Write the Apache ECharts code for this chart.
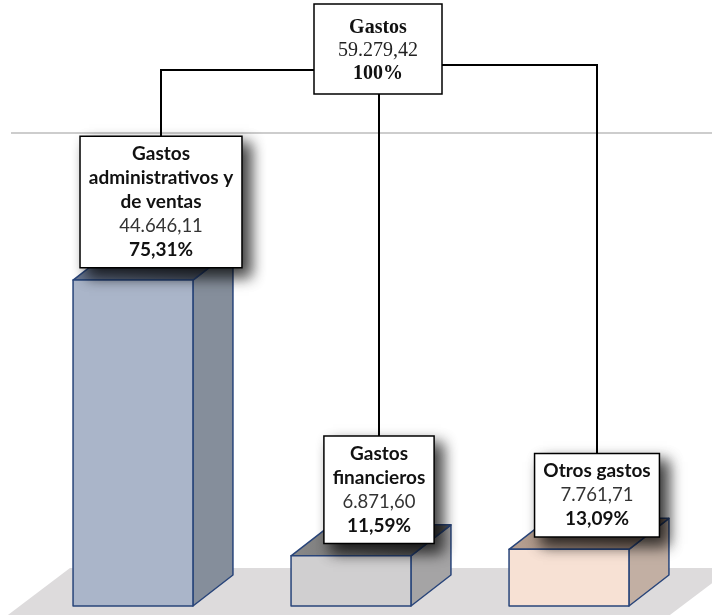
<!DOCTYPE html>
<html>
<head>
<meta charset="utf-8">
<script src="https://cdn.jsdelivr.net/npm/echarts@6/dist/echarts.min.js"></script>
<style>
  html, body { margin: 0; padding: 0; background: #fff; }
  #chart { width: 712px; height: 615px; }
</style>
</head>
<body>
<div id="chart"></div>
<script>
// data
const categories = ['Gastos\nadministrativos y\nde ventas', 'Gastos\nfinancieros', 'Otros gastos']
const values = [44646.11, 6871.60, 7761.71]
const totalName = 'Gastos'

// styles per bar: front, side, top gradient
const palette = [
  { front: '#aab5c9', side: '#858e9b', top: ['#6a7892', '#4c5462'] },
  { front: '#d0cfd0', side: '#a5a4a5', top: ['#8a8a8a', '#555555'] },
  { front: '#f7e1d4', side: '#c2afa3', top: ['#b8a192', '#8d786c'] },
]

const total = values.reduce((a, b) => a + b, 0)

function fmt(n) {
  const [i, d] = n.toFixed(2).split('.')
  return i.replace(/\B(?=(\d{3})+(?!\d))/g, '.') + ',' + d
}
function pct(n) {
  return (n * 100).toFixed(2).replace('.', ',').replace(/,00$/, '') + '%'
}

// top box (total)
const topBox = { x: 314, y: 4, w: 128, h: 90 }
const elbowY = [70, 65]
const LINE_H = 24
const PAD = [5, 8]
const DX = 40, DY = -31

const chart = echarts.init(document.getElementById('chart'))

function renderItem(params, api) {
  const i = params.dataIndex
  const v = api.value(1)
  const top = api.coord([i, v])
  const base = api.coord([i, 0])
  const w = api.size([1, 0])[0] * 0.55
  const x0 = top[0] - w / 2, x1 = top[0] + w / 2
  const y0 = top[1], y1 = base[1]
  const c = palette[i]
  const edge = { stroke: '#29457a', lineWidth: 1.5, lineJoin: 'round' }

  const name = categories[i]
  const lines = name.split('\n')
  const text = lines.map(l => '{b|' + l + '}').join('\n') +
    '\n{v|' + fmt(v) + '}\n{b|' + pct(v / total) + '}'
  const bx = top[0] + 28
  const bBottom = y0 - 13
  const bTop = bBottom - (lines.length + 2) * LINE_H - 2 * PAD[0]

  const topCx = topBox.x + topBox.w / 2
  let conn
  if (Math.abs(bx - topCx) < 25) {
    conn = [[bx, bTop], [bx, topBox.y + topBox.h]]
  } else if (bx < topCx) {
    conn = [[bx, bTop], [bx, elbowY[0]], [topBox.x, elbowY[0]]]
  } else {
    conn = [[bx, bTop], [bx, elbowY[1]], [topBox.x + topBox.w, elbowY[1]]]
  }

  return {
    type: 'group',
    children: [
      {
        type: 'polygon',
        shape: { points: [[x1, y0], [x1 + DX, y0 + DY], [x1 + DX, y1 + DY], [x1, y1]] },
        style: Object.assign({ fill: c.side }, edge),
      },
      {
        type: 'polygon',
        shape: { points: [[x0, y0], [x0 + DX, y0 + DY], [x1 + DX, y0 + DY], [x1, y0]] },
        style: Object.assign({
          fill: new echarts.graphic.LinearGradient(0, 0, 1, 0, [
            { offset: 0, color: c.top[0] },
            { offset: 1, color: c.top[1] },
          ]),
        }, edge),
      },
      {
        type: 'rect',
        shape: { x: x0, y: y0, width: w, height: y1 - y0 },
        style: Object.assign({ fill: c.front }, edge),
      },
      {
        type: 'polyline',
        shape: { points: conn },
        style: { stroke: '#000', lineWidth: 2, fill: null },
      },
      {
        type: 'text',
        x: bx,
        y: bBottom,
        style: {
          text: text,
          align: 'center',
          verticalAlign: 'bottom',
          backgroundColor: '#fff',
          borderColor: '#000',
          borderWidth: 1.5,
          padding: PAD,
          shadowBlur: 14,
          shadowColor: 'rgba(0,0,0,0.8)',
          shadowOffsetX: 8,
          shadowOffsetY: 8,
          rich: {
            b: { fontFamily: 'Lato', fontWeight: 'bold', fontSize: 19, lineHeight: LINE_H, fill: '#111' },
            v: { fontFamily: 'Lato', fontSize: 18.5, lineHeight: LINE_H, fill: '#333' },
          },
        },
      },
    ],
  }
}

chart.setOption({
  animation: false,
  grid: { left: 24, right: 34, top: 168, bottom: 9 },
  xAxis: { type: 'category', data: categories, show: false },
  yAxis: { type: 'value', min: 0, max: 60000, show: false },
  graphic: [
    {
      type: 'polygon',
      z: 0,
      shape: { points: [[70, 568], [732, 568], [662, 621], [0, 621]] },
      style: { fill: '#dddbdc' },
    },
    {
      type: 'line',
      z: 0,
      shape: { x1: 11, y1: 133, x2: 712, y2: 133 },
      style: { stroke: '#bdbdbd', lineWidth: 1.5 },
    },
    {
      type: 'rect',
      z: 10,
      shape: { x: topBox.x, y: topBox.y, width: topBox.w, height: topBox.h },
      style: { fill: '#fff', stroke: '#000', lineWidth: 1.5 },
    },
    {
      type: 'text',
      z: 11,
      x: topBox.x + topBox.w / 2,
      y: topBox.y + topBox.h / 2 + 2,
      style: {
        text: '{b|' + totalName + '}\n{v|' + fmt(total) + '}\n{b|' + pct(1) + '}',
        align: 'center',
        verticalAlign: 'middle',
        rich: {
          b: { fontFamily: 'Liberation Serif', fontWeight: 'bold', fontSize: 20, lineHeight: 23, fill: '#111' },
          v: { fontFamily: 'Liberation Serif', fontSize: 20, lineHeight: 23, fill: '#222' },
        },
      },
    },
  ],
  series: [
    {
      type: 'custom',
      z: 2,
      renderItem: renderItem,
      data: values.map((v, i) => [i, v]),
    },
  ],
})
</script>
</body>
</html>
